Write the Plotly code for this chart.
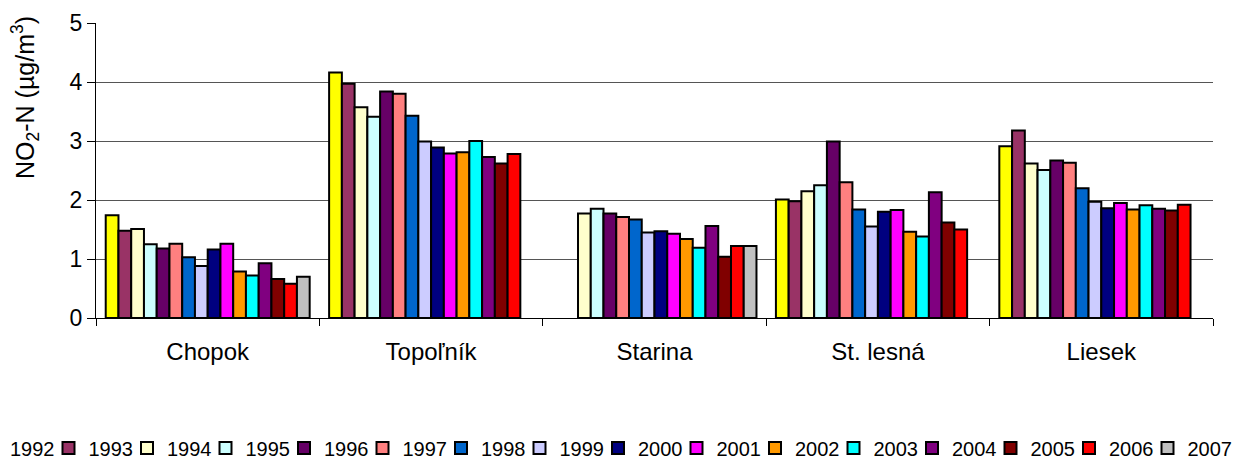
import plotly.graph_objects as go

# NO2-N annual means (µg/m3) per monitoring station, 1992-2007
stations = ["Chopok", "Topoľník", "Starina", "St. lesná", "Liesek"]
years = ["1992", "1993", "1994", "1995", "1996", "1997", "1998", "1999",
         "2000", "2001", "2002", "2003", "2004", "2005", "2006", "2007"]

chopok = [1.74, 1.48, 1.51, 1.25, 1.18, 1.26, 1.03, 0.88,
          1.16, 1.26, 0.79, 0.72, 0.93, 0.66, 0.58, 0.70]
topolnik = [4.16, 3.97, 3.57, 3.41, 3.84, 3.80, 3.43, 2.99,
            2.89, 2.79, 2.81, 3.00, 2.73, 2.62, 2.78, None]
starina = [None, None, 1.77, 1.85, 1.77, 1.71, 1.67, 1.45,
           1.47, 1.43, 1.34, 1.19, 1.56, 1.04, 1.22, 1.22]
st_lesna = [2.01, 1.98, 2.15, 2.25, 2.99, 2.30, 1.84, 1.55,
            1.80, 1.83, 1.46, 1.38, 2.13, 1.62, 1.50, None]
liesek = [2.91, 3.18, 2.62, 2.51, 2.67, 2.63, 2.20, 1.97,
          1.86, 1.95, 1.84, 1.91, 1.85, 1.82, 1.92, None]

colors = ["#FFFF00", "#993366", "#FFFFCC", "#CCFFFF", "#660066", "#FF8080",
          "#0066CC", "#CCCCFF", "#000080", "#FF00FF", "#FF9900", "#00FFFF",
          "#800080", "#800000", "#FF0000", "#C0C0C0"]

by_station = [chopok, topolnik, starina, st_lesna, liesek]

FONT = "Arial, Liberation Sans, sans-serif"


def legend_id(i):
    return "legend" if i == 0 else f"legend{i + 1}"


fig = go.Figure()
for i, year in enumerate(years):
    fig.add_trace(go.Bar(
        name=year,
        x=stations,
        y=[vals[i] for vals in by_station],
        marker=dict(color=colors[i], line=dict(color="#000000", width=2)),
        # each year key gets its own legend box so the entries sit on an
        # evenly spaced row that runs across the full width
        legend=legend_id(i),
    ))

# plot area: 96..1213 px horizontally, 23..318 px vertically
L, R, T, B = 96, 22, 23, 140
W, H = 1235, 458
pw = W - L - R
ph = H - T - B

item_w = 78.5          # spacing of legend entries in px
first_left = -30       # first entry starts just off the left edge
leg_y = (318 - 448) / ph

legends = {}
for i in range(len(years)):
    legends[legend_id(i)] = dict(
        orientation="h",
        font=dict(family=FONT, size=20, color="#000000"),
        yanchor="middle",
        xanchor="left",
        x=(first_left + i * item_w - L) / pw,
        y=leg_y,
        bgcolor="rgba(0,0,0,0)",
        borderwidth=0,
    )

fig.update_layout(
    width=W,
    height=H,
    margin=dict(l=L, r=R, t=T, b=B, autoexpand=False),
    paper_bgcolor="#FFFFFF",
    plot_bgcolor="#FFFFFF",
    barmode="group",
    bargap=0.087,
    bargroupgap=0,
    showlegend=True,
    font=dict(family=FONT, color="#000000"),
    xaxis=dict(
        type="category",
        showline=True,
        linecolor="#000000",
        linewidth=1,
        ticks="outside",
        tickson="boundaries",
        ticklen=7,
        tickcolor="#000000",
        tickfont=dict(family=FONT, size=24, color="#000000"),
        ticklabelstandoff=12,
        showgrid=False,
    ),
    yaxis=dict(
        range=[0, 5],
        dtick=1,
        showline=True,
        linecolor="#000000",
        linewidth=1,
        ticks="outside",
        ticklen=8,
        tickcolor="#000000",
        tickfont=dict(family=FONT, size=23, color="#000000"),
        showgrid=True,
        gridcolor="#555555",
        gridwidth=1,
        zeroline=False,
    ),
    annotations=[dict(
        text="NO<sub>2</sub>-N (µg/m<sup>3</sup>)",
        textangle=-90,
        xref="paper", yref="paper",
        x=(25 - L) / pw, y=(318 - 98) / ph,
        xanchor="center", yanchor="middle",
        showarrow=False,
        font=dict(family=FONT, size=25, color="#000000"),
    )],
    **legends,
)

fig.write_html("out.html")
